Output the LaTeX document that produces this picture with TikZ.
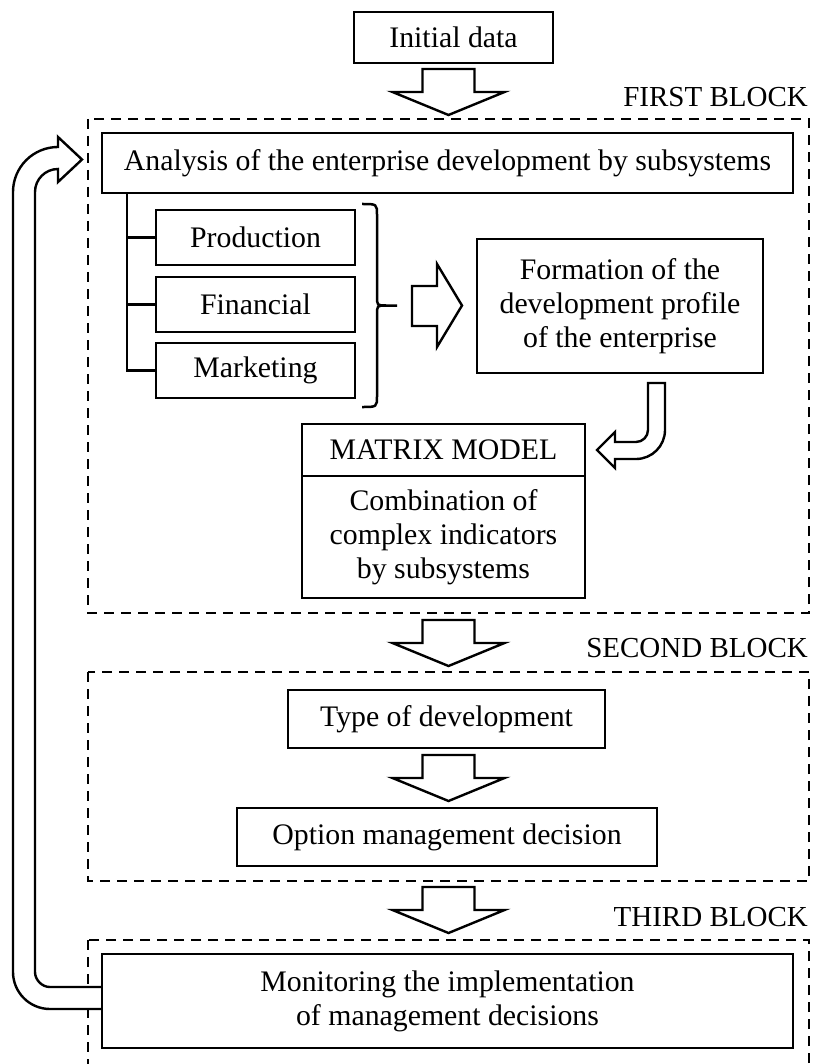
\documentclass[tikz,border=0pt]{standalone}
\usepackage{fontspec}
\setmainfont{Liberation Serif}
\usetikzlibrary{calc}
\begin{document}
\begin{tikzpicture}[x=1pt,y=-1pt,
  every node/.style={font=\fontsize{29.8}{34}\selectfont},
  box/.style={draw, line width=2.5pt, inner sep=0pt, align=center, fill=white},
  blockframe/.style={draw, line width=2.5pt, dash pattern=on 10pt off 7pt},
  fatarrow/.style={draw, fill=white, line width=2.4pt, line join=miter},
  link/.style={line width=2.8pt},
  blocklabel/.style={anchor=base east, inner sep=0pt, font=\fontsize{29}{34}\selectfont},
  downarrow/.pic={\draw[fatarrow] (-26,0) -- (26,0) -- (26,23) -- (56,23) -- (0,46) -- (-56,23) -- (-26,23) -- cycle;}]

\clip (0,0) rectangle (812,1064);
\fill[white] (0,0) rectangle (812,1064);

% block frames
\draw[blockframe] (88,119) rectangle (809,613);
\draw[blockframe] (88,672) rectangle (809,881);
\draw[blockframe] (88,940) rectangle (809,1100);

% block labels
\node[blocklabel] (l1) at (808,107) {FIRST BLOCK};
\node[blocklabel] (l2) at (808,657) {SECOND BLOCK};
\node[blocklabel] (l3) at (808,926) {THIRD BLOCK};

% boxes
\node[box, minimum width=199pt, minimum height=51pt] (init) at (453.5,37.5) {Initial data};
\node[box, minimum width=691pt, minimum height=60pt] (analysis) at (447.5,163) {Analysis of the enterprise development by subsystems};
\node[box, minimum width=199pt, minimum height=55pt] (prod) at (255.5,237.5) {Production};
\node[box, minimum width=199pt, minimum height=55pt] (fin) at (255.5,304.5) {Financial};
\node[box, minimum width=199pt, minimum height=55pt] (mark) at (255.5,370.5) {Marketing};
\node[box, minimum width=286pt, minimum height=134pt] (form) at (620,306) {Formation of the\\development profile\\of the enterprise};
\node[box, minimum width=283pt, minimum height=52pt] (mhead) at (443.5,450) {MATRIX MODEL};
\node[box, minimum width=283pt, minimum height=122pt] (mbody) at (443.5,537) {Combination of\\complex indicators\\by subsystems};
\node[box, minimum width=317pt, minimum height=58pt] (typedev) at (446.5,719) {Type of development};
\node[box, minimum width=420pt, minimum height=58pt] (option) at (447,837) {Option management decision};
\node[box, minimum width=691pt, minimum height=94pt] (monitor) at (447.5,1001) {Monitoring the implementation\\of management decisions};

% subsystem trunk
\coordinate (trunk) at (127,193);
\draw[link] (analysis.south -| trunk) -- (mark.west -| trunk) -- (mark.west);
\draw[link] (prod.west -| trunk) -- (prod.west);
\draw[link] (fin.west -| trunk) -- (fin.west);

% brace
\draw[line width=2.5pt] (362,204) .. controls (377,204) .. (377,215) -- (377,296) .. controls (377,305.5) .. (386,305.5) -- (397,305.5);
\draw[line width=2.5pt] (362,407) .. controls (377,407) .. (377,396) -- (377,315) .. controls (377,305.5) .. (386,305.5);

% right block arrow
\draw[fatarrow] (412,286) -- (437,286) -- (437,264) -- (462,305.5) -- (437,347) -- (437,326) -- (412,326) -- cycle;

% down block arrows
\pic at (448.5,69) {downarrow};
\pic at (448.5,620) {downarrow};
\pic at (448.5,755) {downarrow};
\pic at (448.5,887) {downarrow};

% J-shaped arrow to matrix model
\draw[fatarrow] (648,383) -- (665,383) -- (665,430) .. controls (665,446) and (652,459) .. (636,459) -- (615,459) -- (615,468) -- (597,450) -- (615,432) -- (615,442) -- (636,442) .. controls (642.6,442) and (648,436.6) .. (648,430) -- cycle;

% feedback loop arrow
\draw[fatarrow] ([yshift=14pt]monitor.west) -- (50,987) .. controls (41.7,987) and (35,979.7) .. (35,972) -- (35,192) .. controls (35,179.3) and (45.3,169) .. (58,169) -- (58,182) -- (82,159.5) -- (58,137) -- (58,147) .. controls (33.15,147) and (13,167.15) .. (13,192) -- (13,972) .. controls (13,992.4) and (29.6,1009) .. (50,1009) -- ([yshift=-8pt]monitor.west);
\end{tikzpicture}
\end{document}
